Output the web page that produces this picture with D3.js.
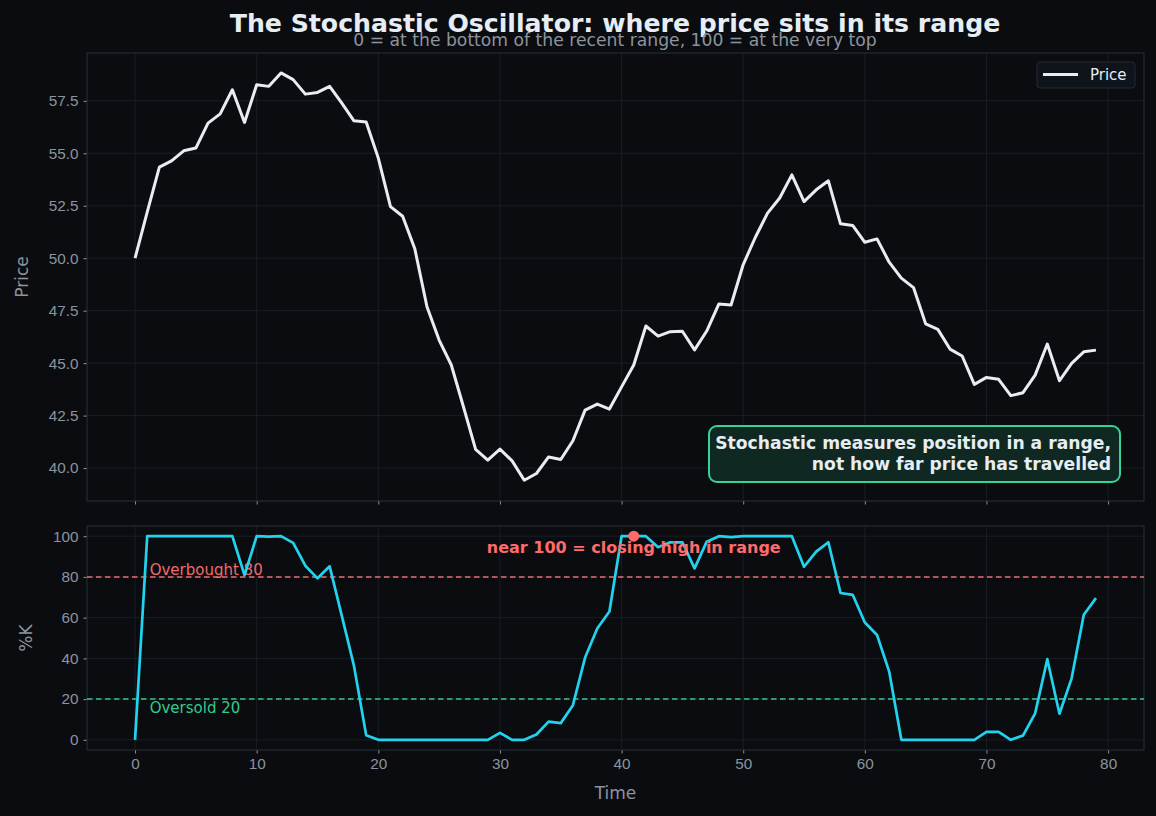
<!DOCTYPE html>
<html>
<head>
<meta charset="utf-8">
<script src="https://cdn.jsdelivr.net/npm/d3@7"></script>
<style>
  body { margin: 0; background: #0b0c10; }
  svg { display: block; font-family: "DejaVu Sans", sans-serif; }
</style>
</head>
<body>
<svg id="chart" width="1156" height="816"></svg>
<script>
// price series, one close per step
const price = [
  50.0, 52.2, 54.34, 54.64, 55.12, 55.25, 56.44, 56.88, 58.03, 56.47,
  58.27, 58.19, 58.83, 58.51, 57.82, 57.9, 58.19, 57.39, 56.55, 56.49,
  54.77, 52.46, 52.0, 50.45, 47.69, 46.1, 44.91, 42.92, 40.89, 40.38,
  40.9, 40.34, 39.42, 39.74, 40.53, 40.41, 41.3, 42.76, 43.05, 42.81,
  43.87, 44.91, 46.77, 46.29, 46.5, 46.52, 45.63, 46.53, 47.82, 47.77,
  49.7, 51.0, 52.15, 52.87, 53.97, 52.7, 53.26, 53.69, 51.64, 51.56,
  50.76, 50.92, 49.81, 49.05, 48.6, 46.87, 46.61, 45.67, 45.34, 43.99,
  44.32, 44.23, 43.45, 43.59, 44.43, 45.91, 44.16, 44.99, 45.54, 45.62
];
// %K values
const pctK = [
  0, 100, 100, 100, 100, 100, 100, 100, 100, 80.9,
  100, 99.8, 100, 96.7, 85.5, 79.3, 85.2, 60.9, 36.3, 2.3,
  0, 0, 0, 0, 0, 0, 0, 0, 0, 0,
  3.4, 0, 0, 2.6, 8.9, 8.2, 17.0, 40.4, 54.7, 63.0,
  100, 100, 100, 94.6, 97.0, 97.0, 84.2, 97.3, 100, 99.5,
  100, 100, 100, 100, 100, 85.0, 92.4, 97.0, 72.1, 71.2,
  57.6, 51.5, 33.5, 0, 0, 0, 0, 0, 0, 0,
  3.9, 3.9, 0, 2.1, 13.0, 39.6, 12.8, 30.2, 61.4, 69.6
];
const time = d3.range(price.length);

const priceTicks = [40.0, 42.5, 45.0, 47.5, 50.0, 52.5, 55.0, 57.5];
const kTicks = [0, 20, 40, 60, 80, 100];
const timeTicks = [0, 10, 20, 30, 40, 50, 60, 70, 80];
const overbought = 80;
const oversold = 20;
const highlightIdx = 41;

const C = {
  bg: "#0b0c10",
  grid: "#1a222c",
  spine: "#27313d",
  text: "#8b949e",
  title: "#e6edf3",
  price: "#e8edf2",
  k: "#22d3ee",
  red: "#f06b6b",
  green: "#34c98b"
};

const svg = d3.select("#chart");
svg.append("rect").attr("width", 1156).attr("height", 816).attr("fill", C.bg);

const left = 87, right = 1144;
const top1 = 53, bot1 = 501;
const top2 = 526, bot2 = 750;

const x = d3.scaleLinear().domain([-3.95, 82.95]).range([left, right]);
const yP = d3.scaleLinear().domain([38.43, 59.78]).range([bot1, top1]);
const yK = d3.scaleLinear().domain([-5, 105]).range([bot2, top2]);

function panel(y, ticks, fmt, yTop, yBot, showX) {
  const g = svg.append("g");
  // grid
  g.append("g").selectAll("line").data(timeTicks).join("line")
    .attr("x1", d => x(d)).attr("x2", d => x(d))
    .attr("y1", yTop).attr("y2", yBot)
    .attr("stroke", C.grid).attr("stroke-width", 0.8);
  g.append("g").selectAll("line").data(ticks).join("line")
    .attr("x1", left).attr("x2", right)
    .attr("y1", d => y(d)).attr("y2", d => y(d))
    .attr("stroke", C.grid).attr("stroke-width", 0.8);

  const ya = g.append("g").attr("transform", `translate(${left},0)`)
    .call(d3.axisLeft(y).tickValues(ticks).tickFormat(fmt).tickSize(3.5).tickPadding(5));
  const xa = g.append("g").attr("transform", `translate(0,${yBot})`)
    .call(d3.axisBottom(x).tickValues(timeTicks).tickFormat(showX ? d3.format("d") : "").tickSize(3.5).tickPadding(5));
  [ya, xa].forEach(a => {
    a.select(".domain").remove();
    a.selectAll("line").attr("stroke", C.text);
    a.selectAll("text").attr("fill", C.text).style("font-size", "15.3px");
  });
  g.append("rect").attr("x", left).attr("y", yTop)
    .attr("width", right - left).attr("height", yBot - yTop)
    .attr("fill", "none").attr("stroke", C.spine).attr("stroke-width", 1);
  return g;
}

panel(yP, priceTicks, d3.format(".1f"), top1, bot1, false);
panel(yK, kTicks, d3.format("d"), top2, bot2, true);

// price line
svg.append("path").datum(time)
  .attr("fill", "none").attr("stroke", C.price).attr("stroke-width", 3)
  .attr("stroke-linejoin", "round")
  .attr("d", d3.line().x(i => x(i)).y(i => yP(price[i])));

// threshold lines
[[overbought, C.red], [oversold, C.green]].forEach(([v, c]) => {
  svg.append("line")
    .attr("x1", left).attr("x2", right)
    .attr("y1", yK(v)).attr("y2", yK(v))
    .attr("stroke", c).attr("stroke-width", 1.5)
    .attr("stroke-dasharray", "5.5,3.5");
});
svg.append("text").attr("x", x(1.2)).attr("y", yK(overbought) - 2)
  .attr("fill", C.red).style("font-size", "15px").text("Overbought 80");
svg.append("text").attr("x", x(1.2)).attr("y", yK(oversold) + 14)
  .attr("fill", C.green).style("font-size", "15px").text("Oversold 20");

// %K line
svg.append("path").datum(time)
  .attr("fill", "none").attr("stroke", C.k).attr("stroke-width", 2.7)
  .attr("stroke-linejoin", "round")
  .attr("d", d3.line().x(i => x(i)).y(i => yK(pctK[i])));

svg.append("text").attr("x", x(highlightIdx)).attr("y", yK(pctK[highlightIdx]) + 17)
  .attr("text-anchor", "middle").attr("fill", "#ff6b6b")
  .style("font-size", "16px").style("font-weight", "bold")
  .text("near 100 = closing high in range");
svg.append("circle").attr("cx", x(highlightIdx)).attr("cy", yK(pctK[highlightIdx]))
  .attr("r", 5.5).attr("fill", "#ff6b6b");

// legend
const lg = svg.append("g").attr("transform", "translate(1037,62)");
lg.append("rect").attr("width", 98).attr("height", 26).attr("rx", 3)
  .attr("fill", "#0f141b").attr("stroke", "#222b36");
lg.append("line").attr("x1", 6).attr("x2", 41).attr("y1", 12.5).attr("y2", 12.5)
  .attr("stroke", C.price).attr("stroke-width", 3);
lg.append("text").attr("x", 53).attr("y", 18).attr("fill", C.title)
  .style("font-size", "15px").text("Price");

// note box
const nb = svg.append("g");
nb.append("rect").attr("x", 709).attr("y", 426).attr("width", 411).attr("height", 56)
  .attr("rx", 8).attr("fill", "#0f2822").attr("stroke", "#34d399").attr("stroke-width", 2);
nb.append("text").attr("text-anchor", "end").attr("fill", "#e6edf3")
  .style("font-size", "17.2px").style("font-weight", "bold")
  .selectAll("tspan")
  .data(["Stochastic measures position in a range,", "not how far price has travelled"])
  .join("tspan").attr("x", 1111).attr("y", (d, i) => 449 + i * 21).text(d => d);

// titles and labels
svg.append("text").attr("x", 615).attr("y", 32).attr("text-anchor", "middle")
  .attr("fill", C.title).style("font-size", "25.2px").style("font-weight", "bold")
  .text("The Stochastic Oscillator: where price sits in its range");
svg.append("text").attr("x", 615).attr("y", 46).attr("text-anchor", "middle")
  .attr("fill", C.text).style("font-size", "17.2px")
  .text("0 = at the bottom of the recent range, 100 = at the very top");

svg.append("text").attr("transform", `translate(28,${(top1 + bot1) / 2}) rotate(-90)`)
  .attr("text-anchor", "middle").attr("fill", C.text).style("font-size", "17px").text("Price");
svg.append("text").attr("transform", `translate(32,${(top2 + bot2) / 2}) rotate(-90)`)
  .attr("text-anchor", "middle").attr("fill", C.text).style("font-size", "17px").text("%K");
svg.append("text").attr("x", (left + right) / 2).attr("y", 799).attr("text-anchor", "middle")
  .attr("fill", C.text).style("font-size", "17px").text("Time");
</script>
</body>
</html>
